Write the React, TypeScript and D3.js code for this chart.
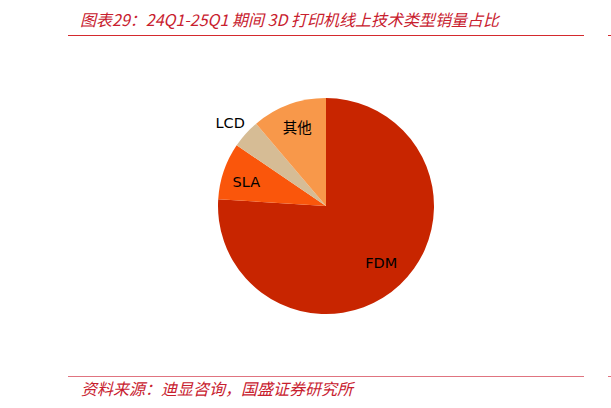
import React, { useEffect, useRef } from "react";
import * as d3 from "d3";

const categories = ["FDM", "SLA", "LCD", "其他"];
const shares = [76.0, 8.5, 4.3, 11.2];
const colors = ["#C82500", "#FA560B", "#D6BC95", "#F8984A"];
const title = "图表29：24Q1-25Q1 期间 3D 打印机线上技术类型销量占比";
const source = "资料来源：迪显咨询，国盛证券研究所";

export default function App() {
    const ref = useRef<SVGSVGElement>(null);

    useEffect(() => {
        const svg = d3.select(ref.current);
        svg.selectAll("*").remove();

        const cx = 326;
        const cy = 206;
        const r = 108;

        // title and rules
        svg.append("text")
            .attr("x", 80)
            .attr("y", 26)
            .attr("fill", "#C8202E")
            .attr("font-size", 16)
            .attr("font-style", "italic")
            .attr("font-family", "'Noto Sans CJK SC', sans-serif")
            .text(title);

        svg.append("line").attr("x1", 68).attr("x2", 584).attr("y1", 35.5).attr("y2", 35.5)
            .attr("stroke", "#D42A2E").attr("stroke-width", 1);
        svg.append("line").attr("x1", 608).attr("x2", 611).attr("y1", 35.5).attr("y2", 35.5)
            .attr("stroke", "#D42A2E").attr("stroke-width", 1);
        svg.append("line").attr("x1", 68).attr("x2", 584).attr("y1", 376.5).attr("y2", 376.5)
            .attr("stroke", "#E07480").attr("stroke-width", 1);
        svg.append("line").attr("x1", 608).attr("x2", 611).attr("y1", 376.5).attr("y2", 376.5)
            .attr("stroke", "#E07480").attr("stroke-width", 1);

        svg.append("text")
            .attr("x", 81)
            .attr("y", 395)
            .attr("fill", "#C8202E")
            .attr("font-size", 16)
            .attr("font-style", "italic")
            .attr("font-family", "'Noto Sans CJK SC', sans-serif")
            .text(source);

        const data = categories.map((c, i) => ({ name: c, value: shares[i], color: colors[i] }));
        const pie = d3.pie<any>().sort(null).value((d) => d.value);
        const arcs = pie(data);
        const arc = d3.arc<any>().innerRadius(0).outerRadius(r);

        const g = svg.append("g").attr("transform", `translate(${cx},${cy})`);
        g.selectAll("path")
            .data(arcs)
            .enter()
            .append("path")
            .attr("d", arc)
            .attr("fill", (d) => d.data.color);

        // label radii per slice (LCD sits outside), small nudges
        const labelR = [0.72, 0.78, 1.18, 0.8];
        const nudge = [[2, 0], [0, 3], [-1, 2], [1, 2]];
        g.selectAll("text.lbl")
            .data(arcs)
            .enter()
            .append("text")
            .attr("class", "lbl")
            .attr("transform", (d, i) => {
                const a = (d.startAngle + d.endAngle) / 2;
                const rr = r * labelR[i];
                return `translate(${Math.sin(a) * rr + nudge[i][0]},${-Math.cos(a) * rr + nudge[i][1]})`;
            })
            .attr("text-anchor", "middle")
            .attr("dominant-baseline", "central")
            .attr("font-size", 14.5)
            .attr("font-family", (d) => d.data.name === "其他" ? "'Noto Sans CJK SC', sans-serif" : "'DejaVu Sans', sans-serif")
            .attr("fill", "#000")
            .text((d) => d.data.name);
    }, []);

    return (
        <div style={{ position: "absolute", left: 0, top: 0 }}>
            <svg ref={ref} width="611" height="408"></svg>
        </div>
    );
}
